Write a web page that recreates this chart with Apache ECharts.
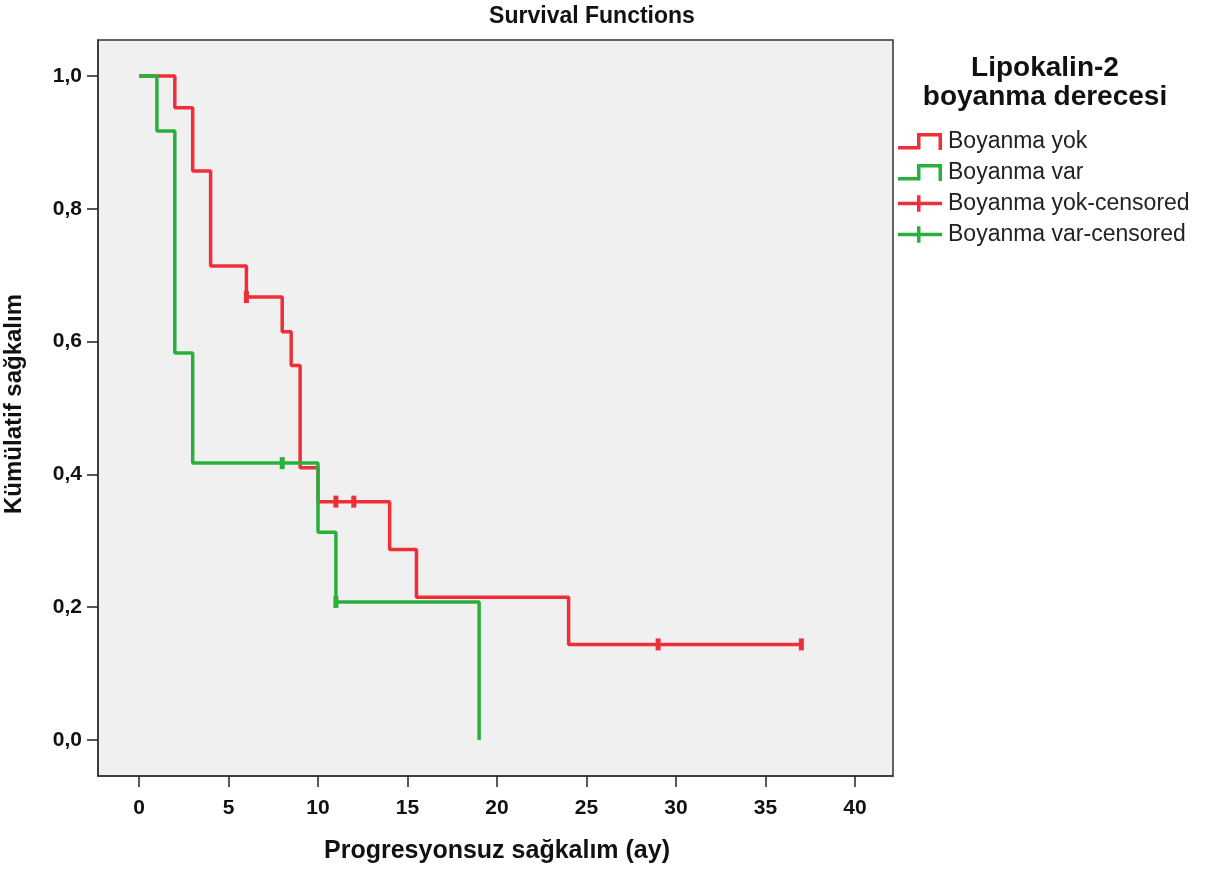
<!DOCTYPE html>
<html>
<head>
<meta charset="utf-8">
<script src="https://cdn.jsdelivr.net/npm/echarts@6/dist/echarts.min.js"></script>
<style>
html,body{margin:0;padding:0;background:#fff;}
#chart{width:1216px;height:870px;}
</style>
</head>
<body>
<div id="chart"></div>
<script>
// Kaplan-Meier step data (time in months, cumulative survival)
const yokTimes = [0, 2, 3, 4, 6, 8, 8.5, 9, 10, 14, 15.5, 24, 37];
const yokSurv  = [1.0, 0.952, 0.857, 0.714, 0.667, 0.615, 0.564, 0.410, 0.359, 0.287, 0.215, 0.144, 0.144];
const varTimes = [0, 1, 2, 3, 10, 11, 19];
const varSurv  = [1.0, 0.917, 0.583, 0.417, 0.313, 0.208, 0.0];
const yokCensTimes = [6, 11, 12, 29, 37];
const yokCensSurv  = [0.667, 0.359, 0.359, 0.144, 0.144];
const varCensTimes = [8, 11];
const varCensSurv  = [0.417, 0.208];
const xTicks = [0, 5, 10, 15, 20, 25, 30, 35, 40];
const yTicks = [0, 0.2, 0.4, 0.6, 0.8, 1.0];
const seriesNames = ['Boyanma yok', 'Boyanma var', 'Boyanma yok-censored', 'Boyanma var-censored'];

const RED = '#ee2f37';
const GREEN = '#27b13c';
const zip = (a, b) => a.map((v, i) => [v, b[i]]);

const stepIcon = 'path://M0,13 L19,13 L19,0 L44,0 L44,17 L40.5,17 L40.5,3.5 L22.5,3.5 L22.5,16.5 L0,16.5 Z';
const crossIcon = 'path://M0,6.5 L19,6.5 L19,0 L22.5,0 L22.5,6.5 L44,6.5 L44,10 L22.5,10 L22.5,16.5 L19,16.5 L19,10 L0,10 Z';

const chart = echarts.init(document.getElementById('chart'), null, {renderer: 'canvas'});
chart.setOption({
  animation: false,
  backgroundColor: '#ffffff',
  textStyle: {fontFamily: 'Liberation Sans, Arial, sans-serif'},
  grid: {
    left: 98, right: 323, top: 40, bottom: 94,
    show: true, backgroundColor: '#f0f0f0', borderColor: '#333', borderWidth: 1.5
  },
  xAxis: {
    type: 'value', min: -2.29, max: 42.12,
    axisLine: {show: true, onZero: false, lineStyle: {color: '#333', width: 1.5}},
    axisTick: {show: true, length: 11, customValues: xTicks, lineStyle: {color: '#222', width: 1.5}},
    axisLabel: {show: true, customValues: xTicks, margin: 22, color: '#111', fontSize: 21, fontWeight: 'bold'},
    splitLine: {show: false}
  },
  yAxis: {
    type: 'value', min: -0.0542, max: 1.0542,
    axisLine: {show: true, onZero: false, lineStyle: {color: '#333', width: 1.5}},
    axisTick: {show: true, length: 11, customValues: yTicks, lineStyle: {color: '#222', width: 1.5}},
    axisLabel: {show: true, customValues: yTicks, margin: 16, color: '#111', fontSize: 21, fontWeight: 'bold',
      formatter: v => v.toFixed(1).replace('.', ',')},
    splitLine: {show: false}
  },
  legend: {
    orient: 'vertical', left: 898, top: 130, padding: 0,
    itemWidth: 44, itemHeight: 17, itemGap: 8,
    selectedMode: false,
    itemStyle: {borderWidth: 0, opacity: 1},
    textStyle: {fontSize: 23, color: '#222', lineHeight: 21, padding: [0, 0, 0, 1], fontFamily: 'Liberation Sans, Arial, sans-serif'},
    data: [
      {name: seriesNames[0], icon: stepIcon},
      {name: seriesNames[1], icon: stepIcon},
      {name: seriesNames[2], icon: crossIcon},
      {name: seriesNames[3], icon: crossIcon}
    ]
  },
  graphic: [
    {type: 'text', x: 592, y: 17, style: {text: 'Survival Functions', textAlign: 'center', textVerticalAlign: 'middle',
      font: 'bold 23px Liberation Sans, Arial, sans-serif', fill: '#111'}},
    {type: 'text', x: 497, y: 851, style: {text: 'Progresyonsuz sağkalım (ay)', textAlign: 'center', textVerticalAlign: 'middle',
      font: 'bold 25px Liberation Sans, Arial, sans-serif', fill: '#111'}},
    {type: 'text', x: 14, y: 404, rotation: Math.PI / 2, style: {text: 'Kümülatif sağkalım', textAlign: 'center', textVerticalAlign: 'middle',
      font: 'bold 24px Liberation Sans, Arial, sans-serif', fill: '#111'}},
    {type: 'text', x: 1045, y: 68, style: {text: 'Lipokalin-2', textAlign: 'center', textVerticalAlign: 'middle',
      font: 'bold 28px Liberation Sans, Arial, sans-serif', fill: '#111'}},
    {type: 'text', x: 1045, y: 97, style: {text: 'boyanma derecesi', textAlign: 'center', textVerticalAlign: 'middle',
      font: 'bold 28px Liberation Sans, Arial, sans-serif', fill: '#111'}}
  ],
  series: [
    {
      name: seriesNames[0], type: 'line', step: 'end', showSymbol: false, symbol: 'none',
      data: zip(yokTimes, yokSurv), color: RED,
      lineStyle: {color: RED, width: 3.5}, z: 2, silent: true
    },
    {
      name: seriesNames[2], type: 'scatter', data: zip(yokCensTimes, yokCensSurv), color: RED,
      symbol: 'rect', symbolSize: [5, 12], itemStyle: {color: RED, opacity: 1}, z: 3, silent: true
    },
    {
      name: seriesNames[1], type: 'line', step: 'end', showSymbol: false, symbol: 'none',
      data: zip(varTimes, varSurv), color: GREEN,
      lineStyle: {color: GREEN, width: 3.5}, z: 4, silent: true
    },
    {
      name: seriesNames[3], type: 'scatter', data: zip(varCensTimes, varCensSurv), color: GREEN,
      symbol: 'rect', symbolSize: [5, 12], itemStyle: {color: GREEN, opacity: 1}, z: 5, silent: true
    }
  ]
});
</script>
</body>
</html>
